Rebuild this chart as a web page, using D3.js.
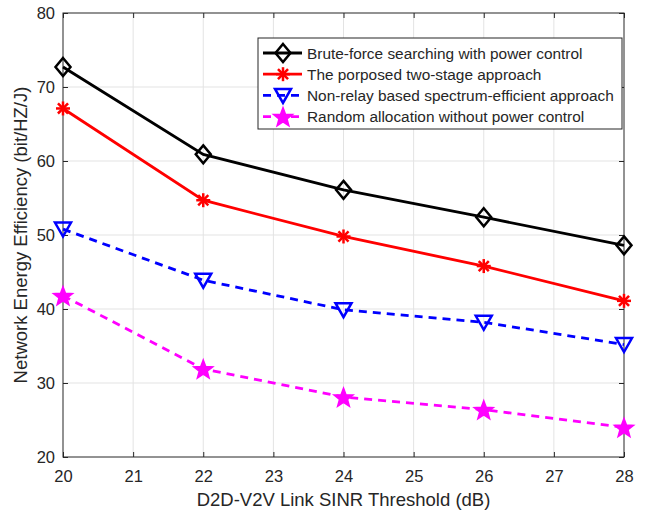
<!DOCTYPE html>
<html><head><meta charset="utf-8">
<script src="https://cdn.jsdelivr.net/npm/d3@7"></script>
<style>body{margin:0;background:#fff}svg{display:block}text{font-family:"Liberation Sans",Arial,sans-serif;fill:#262626}</style>
</head><body><svg id="c" width="647" height="512"></svg>
<script>
const xValues = [20, 22, 24, 26, 28];
const bruteForce = [72.7, 60.9, 56.1, 52.4, 48.6];
const proposed = [67.1, 54.7, 49.8, 45.8, 41.1];
const nonRelay = [50.8, 43.9, 39.9, 38.2, 35.2];
const randomAlloc = [41.8, 31.9, 28.1, 26.4, 24.0];
const xTicks = [20, 21, 22, 23, 24, 25, 26, 27, 28];
const yTicks = [20, 30, 40, 50, 60, 70, 80];
const seriesNames = ["Brute-force searching with power control","The porposed two-stage approach","Non-relay based spectrum-efficient approach","Random allocation without power control"];

const series = [
  {name: seriesNames[0], vals: bruteForce, color: "#000000", dash: null, marker: "diamond"},
  {name: seriesNames[1], vals: proposed, color: "#ff0000", dash: null, marker: "asterisk"},
  {name: seriesNames[2], vals: nonRelay, color: "#0000ff", dash: "8,6", marker: "triangle"},
  {name: seriesNames[3], vals: randomAlloc, color: "#ff00ff", dash: "8,6", marker: "star"}
];

const svg = d3.select("#c");
const L = 63, R = 624, T = 13, B = 457;
const x = d3.scaleLinear().domain([20, 28]).range([L, R]);
const y = d3.scaleLinear().domain([20, 80]).range([B, T]);

// grid
svg.append("g").selectAll("line").data(xTicks.slice(1, -1)).join("line")
  .attr("x1", d => x(d)).attr("x2", d => x(d)).attr("y1", T).attr("y2", B)
  .attr("stroke", "#e3e3e3").attr("stroke-width", 1);
svg.append("g").selectAll("line").data(yTicks.slice(1, -1)).join("line")
  .attr("y1", d => y(d)).attr("y2", d => y(d)).attr("x1", L).attr("x2", R)
  .attr("stroke", "#e3e3e3").attr("stroke-width", 1);

// axes
const ax = svg.append("g").attr("transform", `translate(0,${B})`)
  .call(d3.axisBottom(x).tickValues(xTicks).tickSize(-5).tickPadding(13).tickFormat(d3.format("d")));
const axT = svg.append("g").attr("transform", `translate(0,${T})`)
  .call(d3.axisTop(x).tickValues(xTicks).tickSize(-5).tickFormat(""));
const ay = svg.append("g").attr("transform", `translate(${L},0)`)
  .call(d3.axisLeft(y).tickValues(yTicks).tickSize(-5).tickPadding(8).tickFormat(d3.format("d")));
const ayR = svg.append("g").attr("transform", `translate(${R},0)`)
  .call(d3.axisRight(y).tickValues(yTicks).tickSize(-5).tickFormat(""));
[ax, axT, ay, ayR].forEach(g => {
  g.select(".domain").attr("stroke", "#262626").attr("stroke-width", 1).attr("d", null);
  g.selectAll(".tick line").attr("stroke", "#262626");
  g.selectAll("text").attr("font-size", 16.5).attr("fill", "#262626").attr("font-family", '"Liberation Sans",Arial,sans-serif');
});
svg.append("rect").attr("x", L).attr("y", T).attr("width", R - L).attr("height", B - T)
  .attr("fill", "none").attr("stroke", "#262626").attr("stroke-width", 1);

svg.append("text").attr("x", (L + R) / 2).attr("y", 506).attr("text-anchor", "middle")
  .attr("font-size", 18.5).text("D2D-V2V Link SINR Threshold (dB)");
svg.append("text").attr("transform", `translate(27,${(T + B) / 2}) rotate(-90)`).attr("text-anchor", "middle")
  .attr("font-size", 18.5).text("Network Energy Efficiency (bit/HZ/J)");

function drawMarker(g, type, color) {
  if (type === "diamond") {
    g.append("path").attr("d", "M0,-9L7.5,0L0,9L-7.5,0Z").attr("fill", "none").attr("stroke", color).attr("stroke-width", 2.5);
  } else if (type === "asterisk") {
    const s = 7;
    const p = [[0,-s,0,s],[-s,0,s,0],[-s*0.72,-s*0.72,s*0.72,s*0.72],[-s*0.72,s*0.72,s*0.72,-s*0.72]];
    p.forEach(q => g.append("line").attr("x1", q[0]).attr("y1", q[1]).attr("x2", q[2]).attr("y2", q[3]).attr("stroke", color).attr("stroke-width", 2.5));
  } else if (type === "triangle") {
    g.append("path").attr("d", "M-8,-6.5L8,-6.5L0,7.5Z").attr("fill", "none").attr("stroke", color).attr("stroke-width", 2.5);
  } else if (type === "star") {
    const pts = [];
    for (let i = 0; i < 10; i++) {
      const r = i % 2 === 0 ? 10 : 4.2;
      const a = -Math.PI / 2 + i * Math.PI / 5;
      pts.push([r * Math.cos(a), r * Math.sin(a) + 1]);
    }
    g.append("path").attr("d", "M" + pts.map(p => p.join(",")).join("L") + "Z").attr("fill", color).attr("stroke", color).attr("stroke-width", 1.5);
  }
}

const line = d3.line().x((d, i) => x(xValues[i])).y(d => y(d));
series.forEach(s => {
  svg.append("path").datum(s.vals).attr("d", line).attr("fill", "none")
    .attr("stroke", s.color).attr("stroke-width", 2.8).attr("stroke-dasharray", s.dash);
  s.vals.forEach((v, i) => {
    const g = svg.append("g").attr("transform", `translate(${x(xValues[i])},${y(v)})`);
    drawMarker(g, s.marker, s.color);
  });
});

// legend
const lg = svg.append("g");
lg.append("rect").attr("x", 258).attr("y", 38).attr("width", 364).attr("height", 91)
  .attr("fill", "#fff").attr("stroke", "#262626").attr("stroke-width", 1);
series.forEach((s, i) => {
  const cy = 53 + i * 21.2;
  lg.append("line").attr("x1", 263).attr("x2", 302).attr("y1", cy).attr("y2", cy)
    .attr("stroke", s.color).attr("stroke-width", 2.8).attr("stroke-dasharray", s.dash);
  const g = lg.append("g").attr("transform", `translate(283,${cy})`);
  drawMarker(g, s.marker, s.color);
  lg.append("text").attr("x", 307).attr("y", cy + 5.5).attr("font-size", 15.4).attr("fill", "#000").text(s.name);
});
</script></body></html>
